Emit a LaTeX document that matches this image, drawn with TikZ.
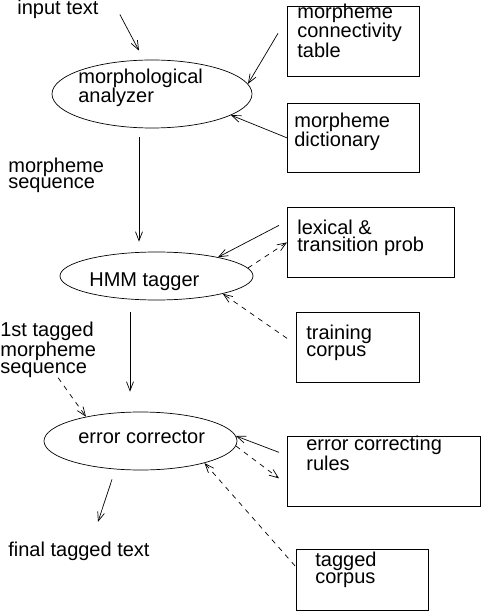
\documentclass[tikz,border=0pt]{standalone}
\usepackage{fontspec}
\setmainfont{Liberation Sans}
\usetikzlibrary{arrows.meta,shapes.geometric}

\begin{document}
\begin{tikzpicture}[x=1pt, y=-1pt,
    font=\fontsize{20}{16.8}\selectfont,
    every path/.style={line width=0.7pt},
    proc/.style={draw, ellipse, inner sep=0pt},
    store/.style={draw, rectangle, inner sep=0pt, anchor=north west},
    txt/.style={anchor=base west, align=left, inner sep=0pt},
    flow/.style={-{Straight Barb[length=9pt,width=7pt]}},
    dflow/.style={flow, dash pattern=on 5pt off 5pt}]
    \useasboundingbox (0,0) rectangle (482,612);

    % Processing steps
    \node[proc, minimum width=200pt, minimum height=68pt] (morph) at (152,94) {};
    \node[proc, minimum width=193pt, minimum height=48pt] (hmm) at (156.5,276) {};
    \node[proc, minimum width=193pt, minimum height=58pt] (err) at (140.5,441) {};
    % (base of a text is its last line)
    \node[txt] (morph-t) at (78,102.7) {morphological\\analyzer};
    \node[txt] (hmm-t) at (89,286.7) {HMM tagger};
    \node[txt] (err-t) at (78,443.3) {error corrector};

    % Resources
    \node[store, minimum width=132pt, minimum height=70pt] (conn) at (287,6) {};
    \node[store, minimum width=132pt, minimum height=69pt] (dict) at (287,103) {};
    \node[store, minimum width=167pt, minimum height=70pt] (lex) at (287,207) {};
    \node[store, minimum width=123pt, minimum height=70pt] (train) at (296,312) {};
    \node[store, minimum width=193pt, minimum height=70pt] (rules) at (287,436) {};
    \node[store, minimum width=132pt, minimum height=61pt] (tagged) at (296,549) {};
    \node[txt] (conn-t) at (297,57.3) {morpheme\\connectivity\\table};
    \node[txt] (dict-t) at (294,146.7) {morpheme\\dictionary};
    \node[txt] (lex-t) at (297,251.7) {lexical \&\\transition prob};
    \node[txt] (train-t) at (306,356) {training\\corpus};
    \node[txt] (rules-t) at (306,470) {error correcting\\rules};
    \node[txt] (tagged-t) at (315,583.3) {tagged\\corpus};

    % Data between the steps
    \node[txt] (input) at (17,15) {input text};
    \node[txt] (mseq) at (8,189) {morpheme\\sequence};
    \node[txt] (tseq) at (0,373.3) {1st tagged\\morpheme\\sequence};
    \node[txt] (final) at (8,556.7) {final tagged text};

    % Main line
    \draw[flow] ([shift={(21,-5)}]input.south east) -- ([shift={(-13,-9)}]morph.north);
    \draw[flow] ([shift={(-13,9)}]morph.south) -- ([shift={(-17.5,-10)}]hmm.north);
    \draw[flow] ([shift={(-26.5,12)}]hmm.south) -- ([shift={(-10.5,-20)}]err.north);
    \draw[flow] ([shift={(-28.5,9)}]err.south) -- ([shift={(19,-20)}]final.north);
    \draw[dflow] ([shift={(10,0)}]tseq.south) -- (err.156);

    % Resources into the steps
    \draw[flow] ([shift={(-9,-8)}]conn.west) -- (morph.6);
    \draw[flow] (dict.west) -- (morph.-15);
    \draw[flow] ([shift={(-8,-17)}]lex.west) -- (hmm.17);
    \draw[dflow] (hmm.5) -- (lex.west);
    \draw[dflow] ([shift={(-9,-9)}]train.west) -- (hmm.-15);
    \draw[flow] ([shift={(-8,-19)}]rules.west) -- (err.3);
    \draw[dflow] (err.-3) -- ([shift={(-8,7)}]rules.west);
    \draw[dflow] ([shift={(-1,-14)}]tagged.west) -- (err.-19);
\end{tikzpicture}
\end{document}
